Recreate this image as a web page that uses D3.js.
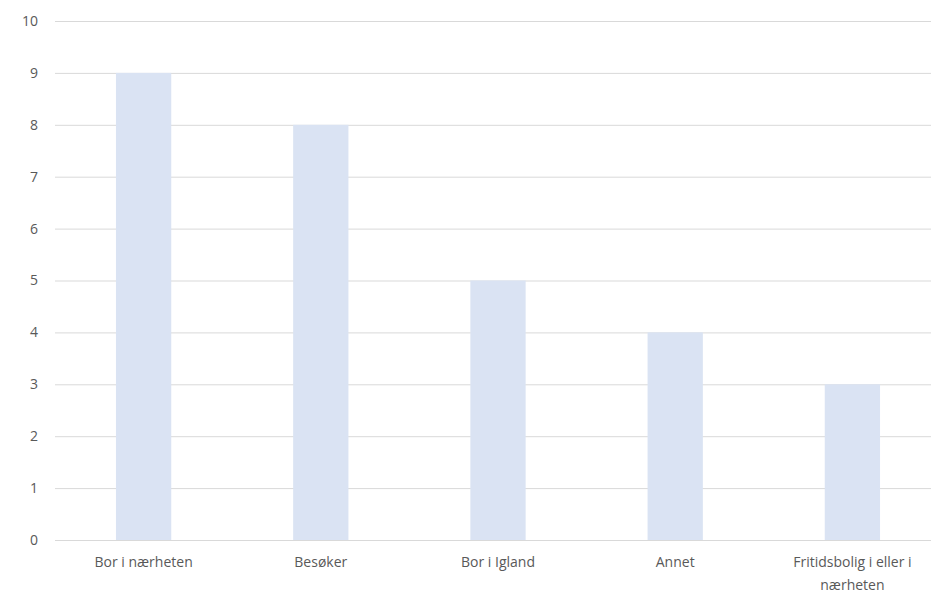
<!DOCTYPE html>
<html>
<head>
<meta charset="utf-8">
<script src="https://cdn.jsdelivr.net/npm/d3@7"></script>
<style>
  html, body { margin: 0; padding: 0; background: #fff; }
  svg { display: block; }
  text { font-family: "Open Sans", "Liberation Sans", sans-serif; fill: #595959; }
</style>
</head>
<body>
<svg id="chart" width="931" height="594"></svg>
<script>
const categories = ["Bor i nærheten", "Besøker", "Bor i Igland", "Annet", "Fritidsbolig i eller i nærheten"];
const values = [9, 8, 5, 4, 3];
const yTicks = [0, 1, 2, 3, 4, 5, 6, 7, 8, 9, 10];

const svg = d3.select("#chart");
const plotLeft = 55, plotRight = 941, plotTop = 21, plotBottom = 540;

const x = d3.scaleBand().domain(categories).range([plotLeft, plotRight]).paddingInner(0.688).paddingOuter(0.344);
const y = d3.scaleLinear().domain([0, 10]).range([plotBottom, plotTop]);

// horizontal gridlines
svg.append("g").selectAll("line").data(yTicks).join("line")
  .attr("x1", plotLeft).attr("x2", 931)
  .attr("y1", d => y(d) + 0.5).attr("y2", d => y(d) + 0.5)
  .attr("stroke", "#d9d9d9").attr("stroke-width", 1);

// y tick labels
svg.append("g").selectAll("text").data(yTicks).join("text")
  .attr("x", 38).attr("y", d => y(d)).attr("dy", "0.35em")
  .attr("text-anchor", "end").attr("font-size", 14)
  .text(d => d);

// bars
svg.append("g").selectAll("rect").data(values).join("rect")
  .attr("x", (d, i) => x(categories[i]))
  .attr("width", x.bandwidth())
  .attr("y", d => y(d))
  .attr("height", d => y(0) - y(d))
  .attr("fill", "#dae3f3");

// x category labels, wrapped to the band width
function wrapLabel(label, maxW, fontSize) {
  const words = label.split(" ");
  const lines = [];
  let cur = "";
  const ctx = document.createElement("canvas").getContext("2d");
  ctx.font = fontSize + "px 'Open Sans'";
  words.forEach(w => {
    const t = cur ? cur + " " + w : w;
    if (ctx.measureText(t).width > maxW && cur) { lines.push(cur); cur = w; }
    else cur = t;
  });
  lines.push(cur);
  return lines;
}
const xl = svg.append("g");
categories.forEach(c => {
  const cx = x(c) + x.bandwidth() / 2;
  const lines = wrapLabel(c, 150, 14);
  const t = xl.append("text")
    .attr("x", cx)
    .attr("y", 567)
    .attr("text-anchor", "middle").attr("font-size", 14);
  lines.forEach((ln, i) => {
    t.append("tspan").attr("x", cx).attr("dy", i === 0 ? 0 : 23).text(ln);
  });
});
</script>
</body>
</html>
